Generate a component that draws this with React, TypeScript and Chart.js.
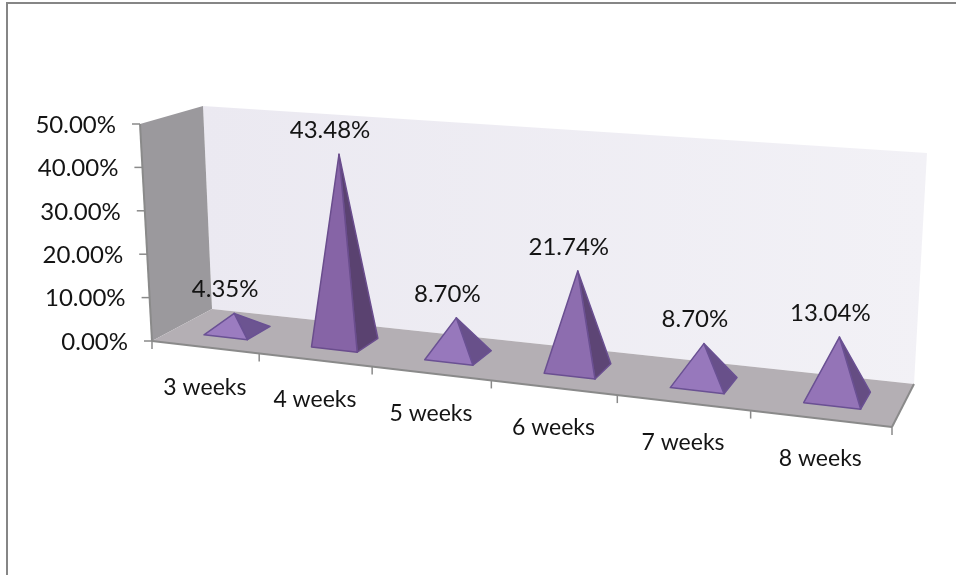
import React, { useEffect, useRef } from "react";
import { Chart, registerables } from "chart.js";

Chart.register(...registerables);

const categories = ["3 weeks", "4 weeks", "5 weeks", "6 weeks", "7 weeks", "8 weeks"];
const shares = [4.35, 43.48, 8.7, 21.74, 8.7, 13.04];
const axisMax = 50;
const axisStep = 10;

type Pt = [number, number];

// Floor corners on the canvas: front-left, front-right, back-right, back-left.
const floorQuad: Pt[] = [[152, 341], [892, 427], [914, 384], [212, 309]];
// Full-height "up" vector at each of those corners (the view leans with perspective).
const upVectors: Pt[] = [[-12, -217], [15, -248], [13, -231], [-9, -203]];

const VALUE_FONT = '24px Lato, "Open Sans", sans-serif';
const CATEGORY_FONT = '23px Lato, "Open Sans", sans-serif';
const TEXT = "#141414";
const EDGE = "#8a8a8a";
const HALF_WIDTH = 0.205; // half a pyramid base, in category widths
const CENTER_SHIFT = 0.025; // pyramids sit a touch right of the category centre
const DEPTH_FRONT = 0.3;
const DEPTH_BACK = 0.7;
const DEPTH_APEX = 0.46;

function floorMapping([p0, p1, p2, p3]: Pt[]) {
  const dx1 = p1[0] - p2[0], dx2 = p3[0] - p2[0], sx = p0[0] - p1[0] + p2[0] - p3[0];
  const dy1 = p1[1] - p2[1], dy2 = p3[1] - p2[1], sy = p0[1] - p1[1] + p2[1] - p3[1];
  const den = dx1 * dy2 - dx2 * dy1;
  const g = (sx * dy2 - dx2 * sy) / den;
  const h = (dx1 * sy - sx * dy1) / den;
  const a = p1[0] - p0[0] + g * p1[0], b = p3[0] - p0[0] + h * p3[0];
  const d = p1[1] - p0[1] + g * p1[1], e = p3[1] - p0[1] + h * p3[1];
  return (s: number, t: number): Pt => {
    const w = g * s + h * t + 1;
    return [(a * s + b * t + p0[0]) / w, (d * s + e * t + p0[1]) / w];
  };
}

const onFloor = floorMapping(floorQuad);

// Projects (along the categories, into the depth, up the value axis), each 0..1.
function project(s: number, d: number, up: number): Pt {
  const [x, y] = onFloor(s, d);
  const mix = (i: number) =>
    (1 - s) * (1 - d) * upVectors[0][i] + s * (1 - d) * upVectors[1][i] +
    s * d * upVectors[2][i] + (1 - s) * d * upVectors[3][i];
  return [x + mix(0) * up, y + mix(1) * up];
}

function poly(ctx: CanvasRenderingContext2D, pts: Pt[]) {
  ctx.beginPath();
  pts.forEach((p, i) => (i ? ctx.lineTo(p[0], p[1]) : ctx.moveTo(p[0], p[1])));
  ctx.closePath();
}

function segment(ctx: CanvasRenderingContext2D, a: Pt, b: Pt) {
  ctx.beginPath();
  ctx.moveTo(a[0], a[1]);
  ctx.lineTo(b[0], b[1]);
  ctx.stroke();
}

function lerpColor(a: number[], b: number[], t: number) {
  const c = a.map((v, i) => Math.round(v + (b[i] - v) * t));
  return `rgb(${c[0]},${c[1]},${c[2]})`;
}

const pyramidScene = {
  id: "pyramidScene",
  beforeDatasetsDraw(chart: any) {
    const { ctx, scales: { x, y } } = chart;
    const area = chart.chartArea;
    const canvas = chart.canvas;
    ctx.save();

    // Outer chart border
    ctx.strokeStyle = "#868686";
    ctx.lineWidth = 2;
    ctx.beginPath();
    ctx.moveTo(7, canvas.height);
    ctx.lineTo(7, 3);
    ctx.lineTo(canvas.width, 3);
    ctx.stroke();

    // Walls and floor
    const backLeftTop = project(0, 1, 1);
    const backRightTop = project(1, 1, 1);
    const wall = ctx.createLinearGradient(backLeftTop[0], 0, backRightTop[0], 0);
    wall.addColorStop(0, "#ebe9f1");
    wall.addColorStop(1, "#f2f1f6");
    ctx.fillStyle = wall;
    poly(ctx, [project(0, 1, 0), backLeftTop, backRightTop, project(1, 1, 0)]);
    ctx.fill();

    ctx.fillStyle = "#9b999d";
    poly(ctx, [project(0, 0, 0), project(0, 0, 1), backLeftTop, project(0, 1, 0)]);
    ctx.fill();

    ctx.fillStyle = "#b4afb4";
    poly(ctx, [project(0, 0, 0), project(1, 0, 0), project(1, 1, 0), project(0, 1, 0)]);
    ctx.fill();

    ctx.strokeStyle = EDGE;
    ctx.lineWidth = 2;
    segment(ctx, project(0, 0, 0), project(1, 0, 0));
    segment(ctx, project(1, 0, 0), project(1, 1, 0));
    segment(ctx, project(0, 0, 0), project(0, 0, 1));

    // Value axis ticks and labels
    ctx.font = VALUE_FONT;
    ctx.fillStyle = TEXT;
    ctx.textAlign = "right";
    ctx.textBaseline = "middle";
    ctx.lineWidth = 1.5;
    y.ticks.forEach((tick: any) => {
      const up = (area.bottom - y.getPixelForValue(tick.value)) / (area.bottom - area.top);
      const p = project(0, 0, up);
      segment(ctx, p, [p[0] - 8, p[1]]);
      ctx.fillText(tick.label, p[0] - 24, p[1] + 1);
    });

    // Category ticks and labels along the front edge
    ctx.font = CATEGORY_FONT;
    ctx.textAlign = "center";
    const step = x.width / categories.length;
    x.ticks.forEach((tick: any, i: number) => {
      const center = x.getPixelForValue(i);
      const mid = project((center - area.left) / x.width, 0, 0);
      const right = project((center + step / 2 - area.left) / x.width, 0, 0);
      segment(ctx, right, [right[0], right[1] + 8]);
      ctx.fillText(tick.label, mid[0], mid[1] + 40);
      if (i === 0) {
        const start = project(0, 0, 0);
        segment(ctx, start, [start[0], start[1] + 8]);
      }
    });
    ctx.restore();
  },
  afterDatasetsDraw(chart: any) {
    const { ctx, scales: { x, y } } = chart;
    const area = chart.chartArea;
    const step = x.width / categories.length;
    const meta = chart.getDatasetMeta(0);
    ctx.save();
    ctx.lineJoin = "round";
    shares.forEach((value, i) => {
      const center = (meta.data[i].x - area.left) / x.width + (CENTER_SHIFT * step) / x.width;
      const half = (HALF_WIDTH * step) / x.width;
      const up = (area.bottom - y.getPixelForValue(value)) / (area.bottom - area.top);
      const fl = project(center - half, DEPTH_FRONT, 0);
      const fr = project(center + half, DEPTH_FRONT, 0);
      const br = project(center + half, DEPTH_BACK, 0);
      const apex = project(center, DEPTH_APEX, up);

      ctx.lineWidth = 1.5;
      ctx.strokeStyle = lerpColor([0x6a, 0x52, 0x95], [0x6a, 0x4c, 0x8c], up);
      ctx.fillStyle = lerpColor([0x70, 0x58, 0x98], [0x5a, 0x42, 0x70], Math.min(1, up * 2));
      poly(ctx, [fr, br, apex]);
      ctx.fill();
      ctx.stroke();

      ctx.fillStyle = lerpColor([0x9e, 0x80, 0xc4], [0x86, 0x64, 0xa6], Math.min(1, up * 1.6));
      poly(ctx, [fl, fr, apex]);
      ctx.fill();
      ctx.stroke();

      ctx.font = VALUE_FONT;
      ctx.fillStyle = TEXT;
      ctx.textAlign = "center";
      ctx.textBaseline = "middle";
      ctx.fillText(value.toFixed(2) + "%", apex[0] - 9, apex[1] - 24);
    });
    ctx.restore();
  },
};

export default function App() {
  const ref = useRef<HTMLCanvasElement>(null);
  useEffect(() => {
    const chart = new Chart(ref.current!, {
      type: "bar",
      data: {
        labels: categories,
        datasets: [{ data: shares, backgroundColor: "transparent", borderWidth: 0 }],
      },
      options: {
        animation: false,
        responsive: false,
        layout: { padding: { left: 152, right: 64, top: 124, bottom: 234 } },
        plugins: { legend: { display: false }, tooltip: { enabled: false } },
        scales: {
          x: { display: false, ticks: { autoSkip: false } },
          y: {
            display: false,
            min: 0,
            max: axisMax,
            ticks: {
              stepSize: axisStep,
              callback: (v: any) => Number(v).toFixed(2) + "%",
            },
          },
        },
      },
      plugins: [pyramidScene],
    } as any);
    return () => chart.destroy();
  }, []);
  return (
    <canvas
      ref={ref}
      width={956}
      height={575}
      style={{ position: "absolute", left: 0, top: 0, background: "#fff" }}
    />
  );
}
